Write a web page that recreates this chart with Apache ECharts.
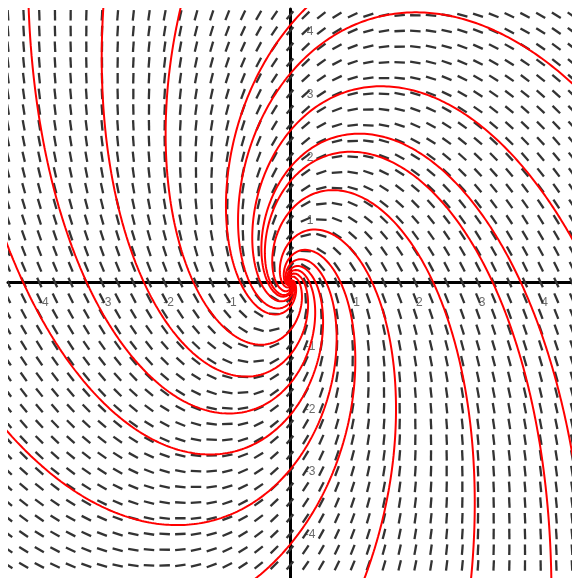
<!DOCTYPE html>
<html>
<head>
<meta charset="utf-8">
<script src="https://cdn.jsdelivr.net/npm/echarts@6/dist/echarts.min.js"></script>
<style>
  html, body { margin: 0; padding: 0; background: #fff; }
  #main { width: 572px; height: 578px; }
</style>
</head>
<body>
<div id="main"></div>
<script>
  // linear system: [x', y'] = A [x, y]
  const rowX = [-1.19, -1.0];
  const rowY = [2.57, -1.2];
  const xRange = [-4.5, 4.5];
  const yRange = [-4.7, 4.35];
  const gridStep = 0.25;
  const xTicks = [-4, -3, -2, -1, 1, 2, 3, 4];
  const yTicks = [-4, -3, -2, -1, 1, 2, 3, 4];
  // where the red curves enter the frame
  const seeds = [
    [-4.17, 4.35], [-2.98, 4.35], [-1.75, 4.35], [0.24, 4.35],
    [4.5, 3.17], [4.5, 0.7], [4.5, -2.7],
    [4.17, -4.7], [2.89, -4.7], [1.19, -4.7], [-0.54, -4.7],
    [-4.5, -2.38], [-4.5, 0.57]
  ];

  function field(x, y) {
    return [rowX[0] * x + rowX[1] * y, rowY[0] * x + rowY[1] * y];
  }
  function unit(x, y, sgn) {
    const f = field(x, y);
    const n = Math.hypot(f[0], f[1]);
    return n ? [sgn * f[0] / n, sgn * f[1] / n] : [0, 0];
  }
  function trace(seed, sgn) {
    let x = seed[0], y = seed[1];
    const h = 0.01;
    const pts = [];
    for (let i = 0; i < 8000; i++) {
      const k1 = unit(x, y, sgn);
      const k2 = unit(x + h / 2 * k1[0], y + h / 2 * k1[1], sgn);
      const k3 = unit(x + h / 2 * k2[0], y + h / 2 * k2[1], sgn);
      const k4 = unit(x + h * k3[0], y + h * k3[1], sgn);
      x += h / 6 * (k1[0] + 2 * k2[0] + 2 * k3[0] + k4[0]);
      y += h / 6 * (k1[1] + 2 * k2[1] + 2 * k3[1] + k4[1]);
      pts.push([x, y]);
      if (Math.hypot(x, y) < 0.01) break;
      if (Math.abs(x) > 5.2 || Math.abs(y) > 5.2) break;
    }
    return pts;
  }

  const gridPts = [];
  for (let i = Math.ceil(xRange[0] / gridStep); i * gridStep <= xRange[1]; i++) {
    for (let j = Math.ceil(yRange[0] / gridStep); j * gridStep <= yRange[1]; j++) {
      if (i === 0 && j === 0) continue;
      gridPts.push([i * gridStep, j * gridStep]);
    }
  }

  const segLen = 10.5;
  const series = [];

  series.push({
    type: 'scatter',
    symbolSize: 0,
    z: 1,
    data: xTicks.map(v => [v, 0]),
    label: { show: true, position: 'inside', offset: [4, 20], formatter: p => String(p.value[0]),
             color: '#444', fontSize: 12, fontFamily: 'Liberation Sans' }
  });
  series.push({
    type: 'scatter',
    symbolSize: 0,
    z: 1,
    data: yTicks.map(v => [0, v]),
    label: { show: true, position: 'inside', offset: [20, 1], formatter: p => String(p.value[1]),
             color: '#444', fontSize: 12, fontFamily: 'Liberation Sans' }
  });

  series.push({
    type: 'custom',
    z: 2,
    clip: true,
    data: gridPts,
    renderItem: function (params, api) {
      const x = api.value(0), y = api.value(1);
      const d = unit(x, y, 1);
      const c = api.coord([x, y]);
      const c2 = api.coord([x + d[0], y + d[1]]);
      let dx = c2[0] - c[0], dy = c2[1] - c[1];
      const L = Math.hypot(dx, dy) || 1;
      dx = dx / L * segLen / 2; dy = dy / L * segLen / 2;
      return {
        type: 'line',
        shape: { x1: c[0] - dx, y1: c[1] - dy, x2: c[0] + dx, y2: c[1] + dy },
        style: { stroke: '#333', lineWidth: 2.3 }
      };
    }
  });

  seeds.forEach(s => {
    const back = trace(s, -1).reverse();
    const fwd = trace(s, 1);
    series.push({
      type: 'line',
      z: 3,
      showSymbol: false,
      silent: true,
      data: back.concat([s], fwd),
      lineStyle: { color: '#ff0000', width: 2 }
    });
  });

  const chart = echarts.init(document.getElementById('main'));
  chart.setOption({
    animation: false,
    grid: { left: 8, top: 9, width: 567, height: 570 },
    xAxis: {
      type: 'value', min: xRange[0], max: xRange[1],
      axisLine: { onZero: true, lineStyle: { color: '#000', width: 3 } },
      axisTick: { show: false }, axisLabel: { show: false }, splitLine: { show: false }
    },
    yAxis: {
      type: 'value', min: yRange[0], max: yRange[1],
      axisLine: { onZero: true, lineStyle: { color: '#000', width: 3 } },
      axisTick: { show: false }, axisLabel: { show: false }, splitLine: { show: false }
    },
    series: series
  });
</script>
</body>
</html>
